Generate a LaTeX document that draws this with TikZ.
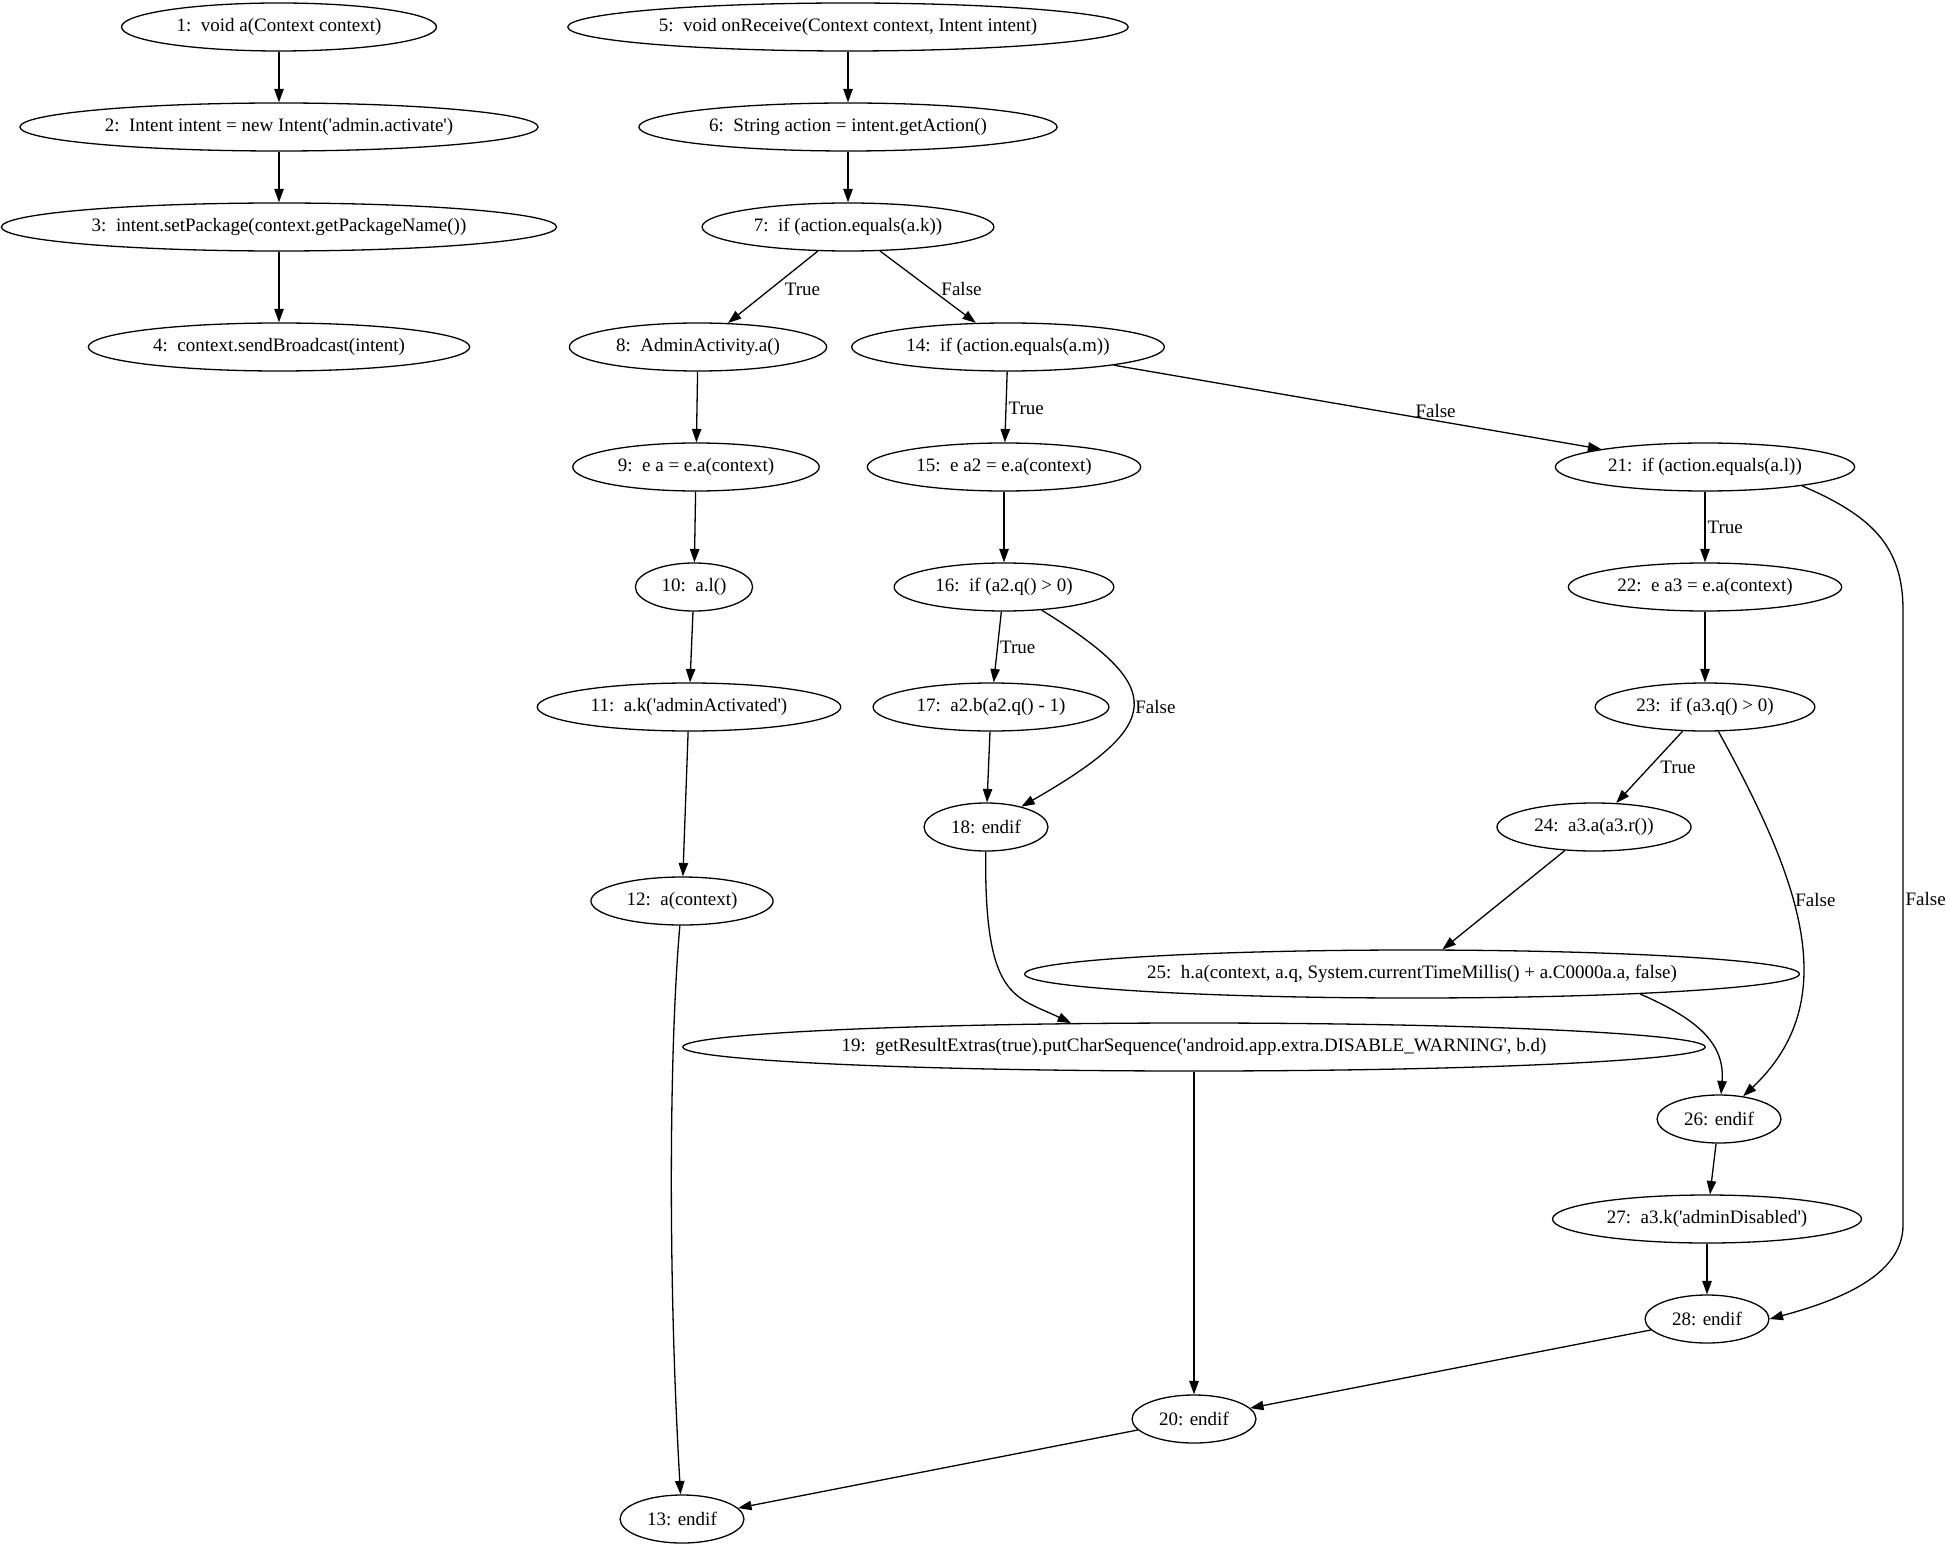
\documentclass[tikz,border=0pt]{standalone}
\usepackage{fontspec}
\setmainfont{Liberation Serif}
\usetikzlibrary{arrows.meta,positioning,shapes.geometric}
\newcommand{\sq}{\textquotesingle}
\tikzset{
  >={Triangle[length=6.7pt,width=4.7pt]},
  stmt/.style={ellipse,draw,line width=0.65pt,inner xsep=4.5pt,inner ysep=1pt,minimum height=24pt,font=\fontsize{9.5}{11}\selectfont},
  flow/.style={->,line width=0.65pt},
  lbl/.style={inner sep=1pt,font=\fontsize{9.5}{11}\selectfont}
}

\begin{document}
\begin{tikzpicture}[x=0.5pt,y=-0.5pt,node distance=60pt]
  \useasboundingbox (0,0) rectangle (1946,1545);

  % a(Context)
  \node[stmt] (n1) at (279,27) {1:~~void a(Context context)};
  \node[stmt,below of=n1,yshift=10pt] (n2) {2:~~Intent intent = new Intent(\sq admin.activate\sq)};
  \node[stmt,below of=n2,yshift=10pt] (n3) {3:~~intent.setPackage(context.getPackageName())};
  \node[stmt,below of=n3] (n4) {4:~~context.sendBroadcast(intent)};

  % onReceive(Context, Intent)
  \node[stmt] (n5) at (848,27) {5:~~void onReceive(Context context, Intent intent)};
  \node[stmt,below of=n5,yshift=10pt] (n6) {6:~~String action = intent.getAction()};
  \node[stmt,below of=n6,yshift=10pt] (n7) {7:~~if (action.equals(a.k))};
  \node[stmt,below of=n7,xshift=-75pt] (n8) {8:~~AdminActivity.a()};
  \node[stmt,below of=n7,xshift=80pt] (n14) {14:~~if (action.equals(a.m))};
  \node[stmt,below of=n8,xshift=-1pt] (n9) {9:~~e a = e.a(context)};
  \node[stmt,below of=n14,xshift=-2pt] (n15) {15:~~e a2 = e.a(context)};
  \node[stmt,below of=n14,xshift=348.5pt] (n21) {21:~~if (action.equals(a.l))};
  \node[stmt,below of=n9,xshift=-1pt] (n10) {10:~~a.l()};
  \node[stmt,below of=n15] (n16) {16:~~if (a2.q() > 0)};
  \node[stmt,below of=n21] (n22) {22:~~e a3 = e.a(context)};
  \node[stmt,below of=n10,xshift=-2.5pt] (n11) {11:~~a.k(\sq adminActivated\sq)};
  \node[stmt,below of=n16,xshift=-6.5pt] (n17) {17:~~a2.b(a2.q() - 1)};
  \node[stmt,below of=n22] (n23) {23:~~if (a3.q() > 0)};
  \node[stmt,below of=n17,xshift=-2.5pt] (n18) {18: endif};
  \node[stmt,below of=n23,xshift=-55.5pt] (n24) {24:~~a3.a(a3.r())};
  \node[stmt,below of=n11,xshift=-3.5pt,yshift=-37pt] (n12) {12:~~a(context)};
  \node[stmt,below of=n24,xshift=-91pt,yshift=-13.5pt] (n25) {25:~~h.a(context, a.q, System.currentTimeMillis() + a.C0000a.a, false)};
  \node[stmt,below of=n18,xshift=104pt,yshift=-50pt] (n19) {19:~~getResultExtras(true).putCharSequence(\sq android.app.extra.DISABLE\_WARNING\sq, b.d)};
  \node[stmt,below of=n25,xshift=153.5pt,yshift=-12.5pt] (n26) {26: endif};
  \node[stmt,below of=n26,xshift=-6pt,yshift=10pt] (n27) {27:~~a3.k(\sq adminDisabled\sq)};
  \node[stmt,below of=n27,yshift=10pt] (n28) {28: endif};
  \node[stmt,below of=n28,xshift=-256.5pt,yshift=10pt] (n20) {20: endif};
  \node[stmt,below of=n20,xshift=-256pt,yshift=10pt] (n13) {13: endif};

  % bends of the long False branch
  \coordinate (r1) at (1903,610);
  \coordinate (r2) at (1903,1225);

  % Arrows
  \draw[flow] (n1) -- (n2);
  \draw[flow] (n2) -- (n3);
  \draw[flow] (n3) -- (n4);
  \draw[flow] (n5) -- (n6);
  \draw[flow] (n6) -- (n7);
  \draw[flow] (n7) -- node[lbl,pos=0.53,right,xshift=6pt] {True} (n8);
  \draw[flow] (n7) -- node[lbl,pos=0.53,right,xshift=4pt] {False} (n14);
  \draw[flow] (n8) -- (n9);
  \draw[flow] (n9) -- (n10);
  \draw[flow] (n10) -- (n11);
  \draw[flow] (n11) -- (n12);
  \draw[flow] (n12) .. controls (669,1050) and (668,1280) .. (n13);
  \draw[flow] (n14) -- node[lbl,pos=0.52,right] {True} (n15);
  \draw[flow] (n14) -- node[lbl,pos=0.66,above] {False} (n21);
  \draw[flow] (n15) -- (n16);
  \draw[flow] (n16) -- node[lbl,right] {True} (n17);
  \draw[flow] (n16) .. controls (1168,688) and (1165,724) .. (n18) node[lbl,pos=0.5,right] {False};
  \draw[flow] (n17) -- (n18);
  \draw[flow] (n18) .. controls (984,1000) and (1015,996) .. (n19.169);
  \draw[flow] (n19) -- (n20);
  \draw[flow] (n21) -- node[lbl,right] {True} (n22);
  \draw[flow] (n21.-11) .. controls (1870,515) and (1903,545) .. (r1)
    -- node[lbl,pos=0.47,right] {False} (r2)
    .. controls (1903,1275) and (1840,1300) .. (n28.east);
  \draw[flow] (n22) -- (n23);
  \draw[flow] (n23) -- node[lbl,pos=0.51,right,xshift=4.5pt] {True} (n24);
  \draw[flow] (n23) .. controls (1800,880) and (1845,1000) .. (n26) node[lbl,pos=0.41,right] {False};
  \draw[flow] (n24) -- (n25);
  \draw[flow] (n25.-5) .. controls (1700,1020) and (1725,1045) .. (n26);
  \draw[flow] (n26) -- (n27);
  \draw[flow] (n27) -- (n28);
  \draw[flow] (n28) -- (n20);
  \draw[flow] (n20) -- (n13);
\end{tikzpicture}
\end{document}
